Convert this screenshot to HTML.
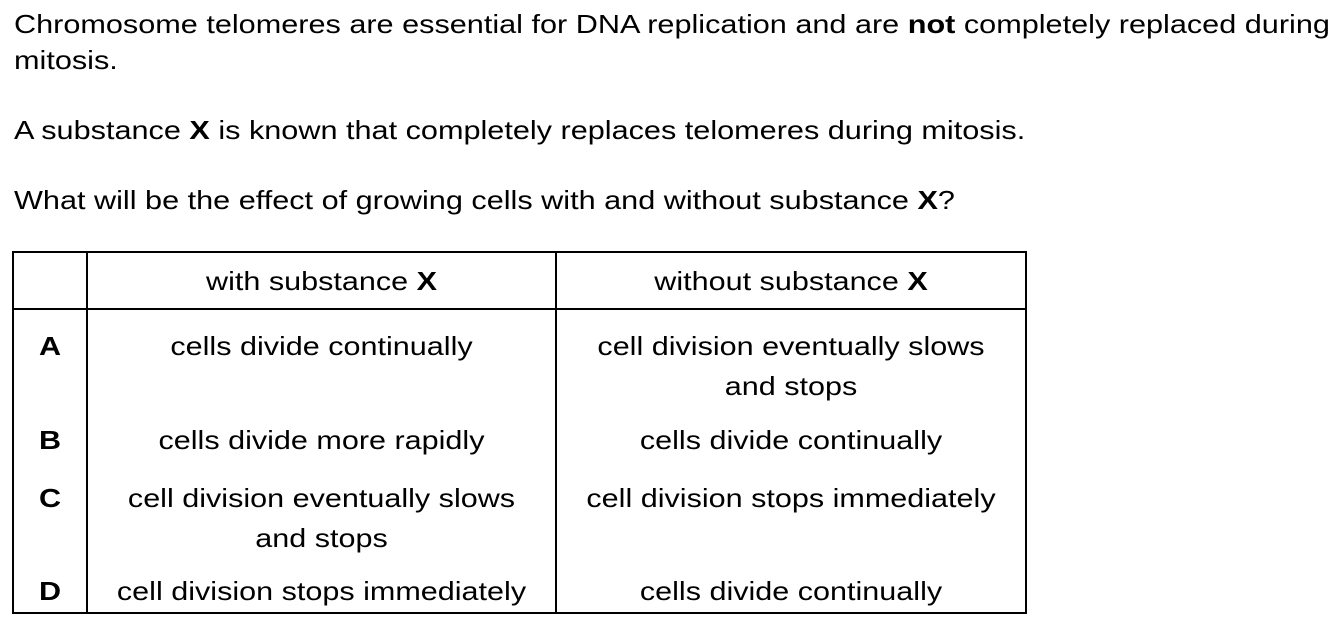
<!DOCTYPE html>
<html><head><meta charset="utf-8"><style>
body{margin:0;width:1339px;height:628px;background:#fff;position:relative;overflow:hidden;font-family:"Liberation Sans",Arial,sans-serif;font-size:26px;color:#000}
.t{position:absolute;white-space:nowrap;line-height:36px;transform:scaleX(1.178);transform-origin:left center}
.c{position:absolute;text-align:center;white-space:nowrap;line-height:40px;transform:scaleX(1.175);transform-origin:center center}
.l{position:absolute;background:#000}
b{font-weight:bold}
</style></head><body>
<div class="t" style="left:14px;top:6px">Chromosome telomeres are essential for DNA replication and are <b>not</b> completely replaced during</div>
<div class="t" style="left:14px;top:42px">mitosis.</div>
<div class="t" style="left:14px;top:112px">A substance <b>X</b> is known that completely replaces telomeres during mitosis.</div>
<div class="t" style="left:14px;top:182px">What will be the effect of growing cells with and without substance <b>X</b>?</div>

<div>
<div class="l" style="left:12px;top:251px;width:1015px;height:2px"></div>
<div class="l" style="left:12px;top:308px;width:1015px;height:2px"></div>
<div class="l" style="left:12px;top:612px;width:1015px;height:2px"></div>
<div class="l" style="left:12px;top:251px;width:2px;height:363px"></div>
<div class="l" style="left:86px;top:251px;width:2px;height:363px"></div>
<div class="l" style="left:555px;top:251px;width:2px;height:363px"></div>
<div class="l" style="left:1025px;top:251px;width:2px;height:363px"></div>

<div class="c" style="left:88px;width:467px;top:261px">with substance <b>X</b></div>
<div class="c" style="left:557px;width:468px;top:261px">without substance <b>X</b></div>

<div class="c" style="left:14px;width:72px;top:326px"><b>A</b></div>
<div class="c" style="left:88px;width:467px;top:326px">cells divide continually</div>
<div class="c" style="left:557px;width:468px;top:326px">cell division eventually slows<br>and stops</div>

<div class="c" style="left:14px;width:72px;top:420px"><b>B</b></div>
<div class="c" style="left:88px;width:467px;top:420px">cells divide more rapidly</div>
<div class="c" style="left:557px;width:468px;top:420px">cells divide continually</div>

<div class="c" style="left:14px;width:72px;top:478px"><b>C</b></div>
<div class="c" style="left:88px;width:467px;top:478px">cell division eventually slows<br>and stops</div>
<div class="c" style="left:557px;width:468px;top:478px">cell division stops immediately</div>

<div class="c" style="left:14px;width:72px;top:571px"><b>D</b></div>
<div class="c" style="left:88px;width:467px;top:571px">cell division stops immediately</div>
<div class="c" style="left:557px;width:468px;top:571px">cells divide continually</div>
</div>
</body></html>
